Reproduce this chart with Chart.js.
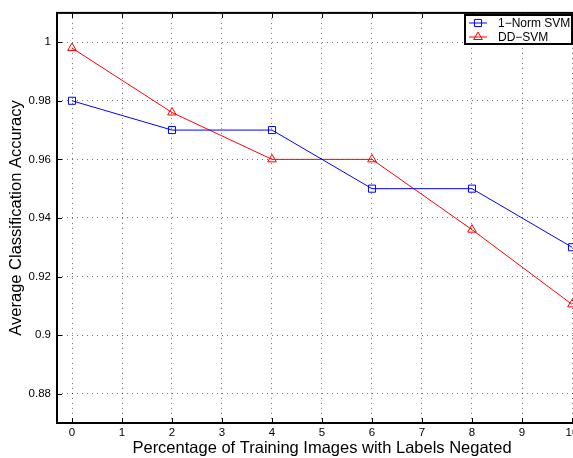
<!DOCTYPE html>
<html>
<head>
<meta charset="utf-8">
<script src="https://cdn.jsdelivr.net/npm/chart.js@4.4.1/dist/chart.umd.min.js"></script>
<style>
  html, body { margin: 0; padding: 0; background: #fff; overflow: hidden; }
  #wrap { position: absolute; left: 0; top: 0; width: 600px; height: 458px; }
</style>
</head>
<body>
<div id="wrap"><canvas id="chart"></canvas></div>
<script>
// data
const xTicks = [0, 1, 2, 3, 4, 5, 6, 7, 8, 9, 10];
const yTicks = [0.88, 0.9, 0.92, 0.94, 0.96, 0.98, 1];
const negated = [0, 2, 4, 6, 8, 10];
const normSvm = [0.98, 0.97, 0.97, 0.95, 0.95, 0.93];
const ddSvm = [0.998, 0.976, 0.96, 0.96, 0.936, 0.9105];
const seriesNames = ['1\u2212Norm SVM', 'DD\u2212SVM'];

const FONT = "'Liberation Sans', Arial, Helvetica, sans-serif";

// frame, inward tick marks and the legend box, matlab style
const matlabFrame = {
  id: 'matlabFrame',
  afterDraw(chart) {
    const { ctx, chartArea: a, scales } = chart;
    ctx.save();
    ctx.strokeStyle = '#000';
    ctx.lineWidth = 1;
    const tl = 5;
    ctx.beginPath();
    xTicks.forEach(v => {
      const px = Math.round(scales.x.getPixelForValue(v)) + 0.5;
      ctx.moveTo(px, a.bottom); ctx.lineTo(px, a.bottom - tl);
      ctx.moveTo(px, a.top); ctx.lineTo(px, a.top + tl);
    });
    yTicks.forEach(v => {
      const py = Math.round(scales.y.getPixelForValue(v)) + 0.5;
      ctx.moveTo(a.left, py); ctx.lineTo(a.left + tl, py);
      ctx.moveTo(a.right, py); ctx.lineTo(a.right - tl, py);
    });
    ctx.stroke();
    ctx.lineWidth = 2;
    ctx.strokeRect(a.left, a.top, a.right - a.left, a.bottom - a.top);

    // legend
    const bx = 465, by = 15, bw = 107, bh = 29;
    ctx.fillStyle = '#fff';
    ctx.fillRect(bx, by, bw, bh);
    ctx.lineWidth = 2;
    ctx.strokeStyle = '#000';
    ctx.strokeRect(bx, by, bw, bh);
    ctx.font = '12px ' + FONT;
    ctx.textBaseline = 'middle';
    chart.data.datasets.forEach((ds, i) => {
      const ly = by + 8 + i * 14;
      ctx.strokeStyle = ds.borderColor;
      ctx.fillStyle = 'rgba(0,0,0,0)';
      ctx.lineWidth = 1;
      ctx.beginPath();
      ctx.moveTo(bx + 4, ly); ctx.lineTo(bx + 22, ly);
      ctx.stroke();
      Chart.helpers.drawPoint(ctx, {
        pointStyle: ds.pointStyle, radius: ds.pointRadius, borderWidth: 1, rotation: 0
      }, bx + 13, ly);
      ctx.fillStyle = '#000';
      ctx.fillText(ds.label, bx + 33, ly + 1);
    });
    ctx.restore();
  }
};

new Chart(document.getElementById('chart'), {
  type: 'line',
  data: {
    datasets: [
      {
        label: seriesNames[0],
        data: negated.map((x, i) => ({ x, y: normSvm[i] })),
        borderColor: '#0000ff',
        backgroundColor: 'rgba(0,0,0,0)',
        borderWidth: 1,
        pointStyle: 'rect',
        pointRadius: 5,
        pointBorderWidth: 1,
        tension: 0
      },
      {
        label: seriesNames[1],
        data: negated.map((x, i) => ({ x, y: ddSvm[i] })),
        borderColor: '#ff0000',
        backgroundColor: 'rgba(0,0,0,0)',
        borderWidth: 1,
        pointStyle: 'triangle',
        pointRadius: 5,
        pointBorderWidth: 1,
        tension: 0
      }
    ]
  },
  options: {
    responsive: true,
    maintainAspectRatio: false,
    animation: false,
    clip: false,
    layout: { padding: { top: 10, right: 13, left: 0, bottom: 0 } },
    plugins: { legend: { display: false }, tooltip: { enabled: false } },
    scales: {
      x: {
        type: 'linear',
        min: -0.3,
        max: 10.3,
        afterBuildTicks: s => { s.ticks = xTicks.map(v => ({ value: v })); },
        afterFit: s => { s.height = 35; },
        ticks: { color: '#000', font: { family: FONT, size: 11.5 }, padding: 3, maxRotation: 0, autoSkip: false },
        grid: { color: 'rgba(0,0,0,0.55)', drawTicks: false },
        border: { display: false, dash: [1, 4] },
        title: {
          display: true,
          text: 'Percentage of Training Images with Labels Negated',
          color: '#000',
          font: { family: FONT, size: 16.5 },
          padding: { top: 0, bottom: 0 }
        }
      },
      y: {
        min: 0.87,
        max: 1.01,
        afterBuildTicks: s => { s.ticks = yTicks.map(v => ({ value: v })); },
        afterFit: s => { s.width = 57; },
        ticks: {
          color: '#000',
          font: { family: FONT, size: 11.5 },
          padding: 6,
          callback: v => String(Number(v.toFixed(2)))
        },
        grid: { color: 'rgba(0,0,0,0.55)', drawTicks: false },
        border: { display: false, dash: [1, 4] },
        title: {
          display: true,
          text: 'Average Classification Accuracy',
          color: '#000',
          font: { family: FONT, size: 16.5 },
          padding: { top: 7, bottom: 0 }
        }
      }
    }
  },
  plugins: [matlabFrame]
});
</script>
</body>
</html>
